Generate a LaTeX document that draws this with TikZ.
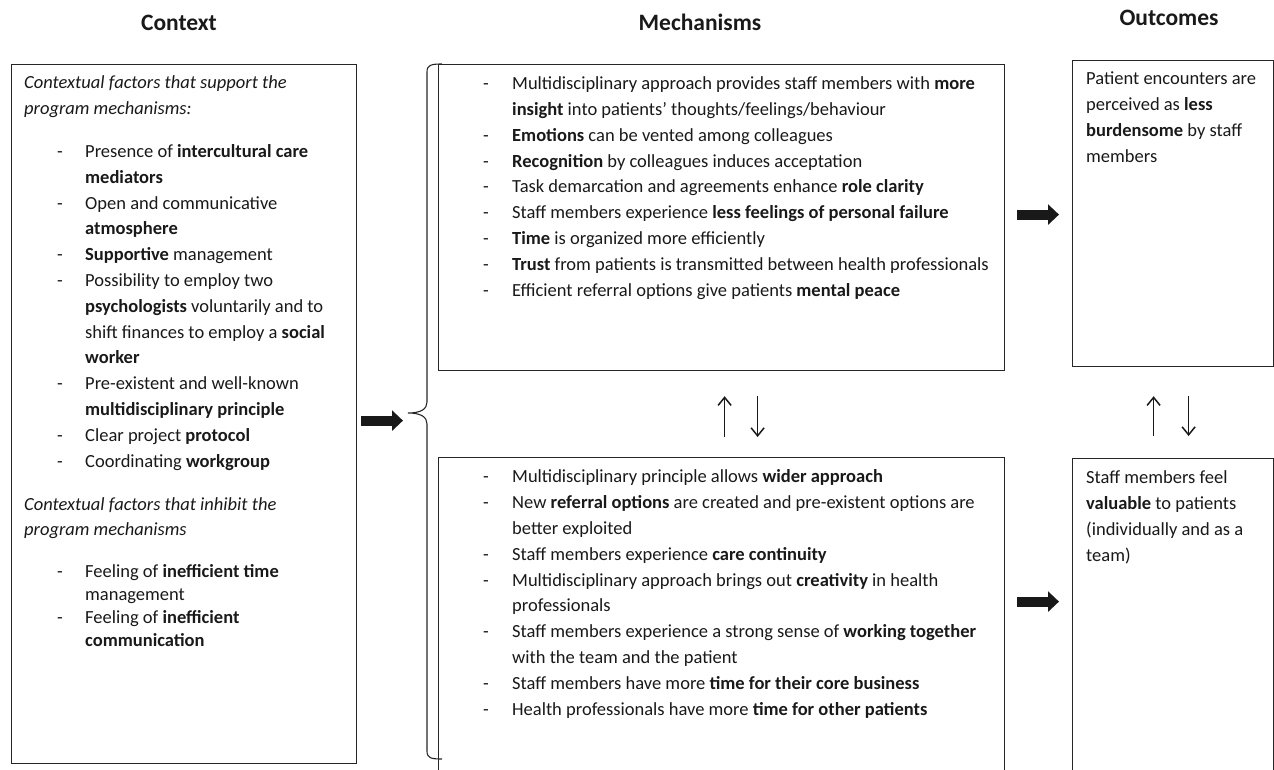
\documentclass[tikz,border=0pt]{standalone}
\usepackage{fontspec}
\setmainfont{Carlito}
\usetikzlibrary{arrows.meta}
\newcommand\ctxd{\hspace*{33pt}\makebox[28pt][l]{-}}
\newcommand\ctxc{\hspace*{61pt}}
\newcommand\mecd{\makebox[29pt][l]{-}}
\newcommand\mecc{\hspace*{29pt}}
\begin{document}
\begin{tikzpicture}[x=1pt,y=-1pt,
  box/.style={draw=black!85, line width=1.2pt, anchor=north west, inner sep=0pt},
  txt/.style={anchor=base west, inner sep=0pt, align=left, text=black!90, font=\fontsize{18.5}{25.8}\selectfont},
  hd/.style={inner sep=0pt, anchor=center, text=black!90, font=\fontsize{23.5}{28}\selectfont\bfseries},
  fat/.style={line width=10pt, draw=black!90, -{Triangle[length=11pt,width=20pt]}},
  thinarrow/.style={line width=1.5pt, draw=black!90, -{Straight Barb[length=8pt,width=13pt]}}]
\clip (0,0) rectangle (1274,769);
% headings
\node[hd] (hctx) at (179,23) {Context};
\node[hd] (hmec) at (700,22) {Mechanisms};
\node[hd] (hout) at (1169,18) {Outcomes};
% boxes
\node[box, minimum width=345pt, minimum height=699pt] (lbox) at (11,64) {};
\node[box, minimum width=566pt, minimum height=306pt] (mtop) at (438,64) {};
\node[box, minimum width=566pt, minimum height=330pt] (mbot) at (438,457) {};
\node[box, minimum width=201pt, minimum height=306pt] (rtop) at (1072,60) {};
\node[box, minimum width=201pt, minimum height=330pt] (rbot) at (1072,458) {};
% texts (anchor = baseline of last line)
\node[txt] (ltext) at (24,646) {%
\textit{Contextual factors that support the}\\
\textit{program mechanisms:}\\[17.2pt]
\ctxd Presence of \textbf{intercultural care}\\
\ctxc\textbf{mediators}\\
\ctxd Open and communicative\\
\ctxc\textbf{atmosphere}\\
\ctxd\textbf{Supportive} management\\
\ctxd Possibility to employ two\\
\ctxc\textbf{psychologists} voluntarily and to\\
\ctxc shift finances to employ a \textbf{social}\\
\ctxc\textbf{worker}\\
\ctxd Pre-existent and well-known\\
\ctxc\textbf{multidisciplinary principle}\\
\ctxd Clear project \textbf{protocol}\\
\ctxd Coordinating \textbf{workgroup}\\[17.2pt]
\textit{Contextual factors that inhibit the}\\
\textit{program mechanisms}\\[16.2pt]
\ctxd Feeling of \textbf{inefficient time}\\[-3.1pt]
\ctxc management\\[-3.1pt]
\ctxd Feeling of \textbf{inefficient}\\[-3.1pt]
\ctxc\textbf{communication}};
\node[txt] (mtoptext) at (483,296) {%
\mecd Multidisciplinary approach provides staff members with \textbf{more}\\
\mecc\textbf{insight} into patients’ thoughts/feelings/behaviour\\
\mecd\textbf{Emotions} can be vented among colleagues\\
\mecd\textbf{Recognition} by colleagues induces acceptation\\
\mecd Task demarcation and agreements enhance \textbf{role clarity}\\
\mecd Staff members experience \textbf{less feelings of personal failure}\\
\mecd\textbf{Time} is organized more efficiently\\
\mecd\textbf{Trust} from patients is transmitted between health professionals\\
\mecd Efficient referral options give patients \textbf{mental peace}};
\node[txt] (mbottext) at (483,715) {%
\mecd Multidisciplinary principle allows \textbf{wider approach}\\
\mecd New \textbf{referral options} are created and pre-existent options are\\
\mecc better exploited\\
\mecd Staff members experience \textbf{care continuity}\\
\mecd Multidisciplinary approach brings out \textbf{creativity} in health\\
\mecc professionals\\
\mecd Staff members experience a strong sense of \textbf{working together}\\
\mecc with the team and the patient\\
\mecd Staff members have more \textbf{time for their core business}\\
\mecd Health professionals have more \textbf{time for other patients}};
\node[txt] (rtoptext) at (1086,162) {%
Patient encounters are\\
perceived as \textbf{less}\\
\textbf{burdensome} by staff\\
members};
\node[txt] (rbottext) at (1086,561) {%
Staff members feel\\
\textbf{valuable} to patients\\
(individually and as a\\
team)};
% brace
\coordinate (bt) at (408,413);
\draw[line width=1.1pt, draw=black!85] (442,64) .. controls (431,64) and (427,65) .. (427,72) -- (427,402) .. controls (427,409) and (421,413) .. (bt) .. controls (421,413) and (427,417) .. (427,424) -- (427,751) .. controls (427,758) and (431,759) .. (442,759);
% fat arrows
\coordinate (fa0) at ([yshift=-6.5pt]lbox.east);
\draw[fat, shorten <=4pt, shorten >=5pt] (fa0) -- (fa0 -| bt);
\coordinate (fa1) at ([yshift=3pt]mtop.east);
\draw[fat, shorten <=12pt, shorten >=13pt] (fa1) -- (fa1 -| rtop.west);
\coordinate (fa2) at ([yshift=21pt]mbot.east);
\draw[fat, shorten <=12pt, shorten >=13pt] (fa2) -- (fa2 -| rbot.west);
% thin arrows
\draw[thinarrow, shorten <=20pt, shorten >=25pt] ([xshift=3pt]mbot.north) -- ([xshift=3pt]mtop.south);
\draw[thinarrow, shorten <=25pt, shorten >=20pt] ([xshift=36pt]mtop.south) -- ([xshift=36pt]mbot.north);
\draw[thinarrow, shorten <=22pt, shorten >=29pt] ([xshift=-19.5pt]rbot.north) -- ([xshift=-19.5pt]rtop.south);
\draw[thinarrow, shorten <=29pt, shorten >=22pt] ([xshift=15.5pt]rtop.south) -- ([xshift=15.5pt]rbot.north);
\end{tikzpicture}
\end{document}
